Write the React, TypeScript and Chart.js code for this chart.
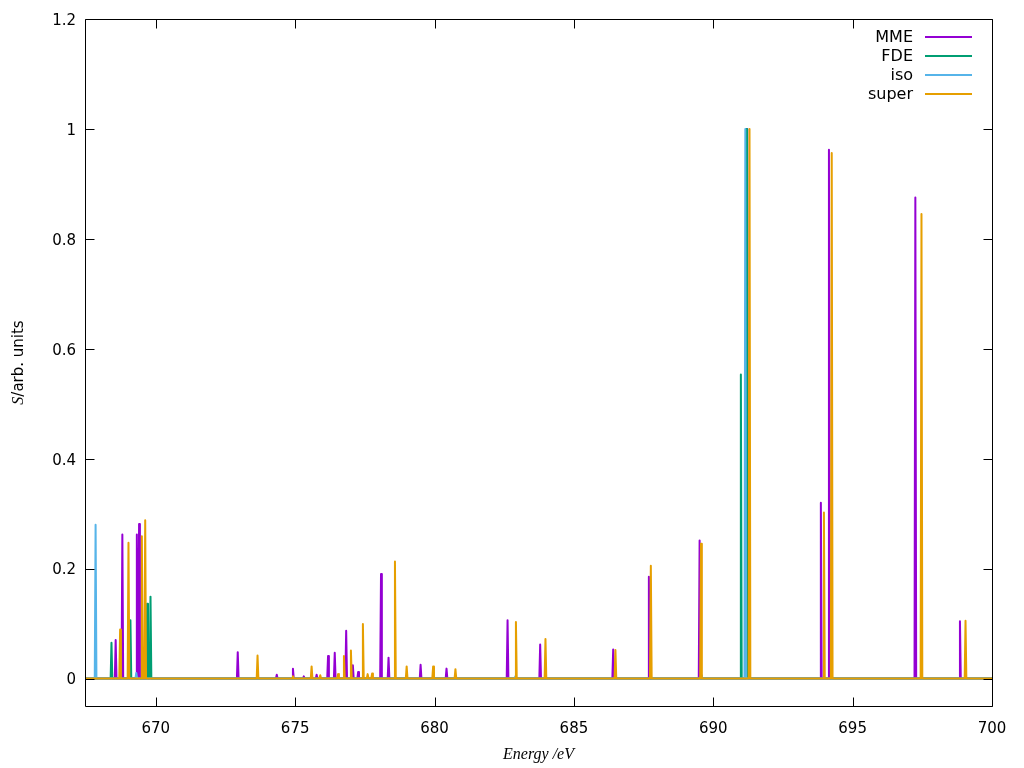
import { useEffect, useRef } from "react";
import { Chart, registerables } from "chart.js";

Chart.register(...registerables);

// ---- axis ranges & ticks ----
const xMin = 667.46;
const xMax = 700;
const yMin = -0.05;
const yMax = 1.2;
const xTickValues = [670, 675, 680, 685, 690, 695, 700];
const xTickLabels = ["670", "675", "680", "685", "690", "695", "700"];
const yTickValues = [0, 0.2, 0.4, 0.6, 0.8, 1, 1.2];
const yTickLabels = ["0", "0.2", "0.4", "0.6", "0.8", "1", "1.2"];

// ---- series ----
const seriesNames = ["MME", "FDE", "iso", "super"];
const seriesColors = ["#9400d3", "#009e73", "#56b4e9", "#e69f00"];

const mmeEnergy = [
  668.56, 668.8, 669.32, 669.4, 672.94, 674.34, 674.92, 675.31, 675.77, 676.18,
  676.42, 676.83, 677.07, 677.26, 678.08, 678.35, 679.5, 680.43, 682.62, 683.79,
  686.41, 687.69, 689.51, 691.22, 693.86, 694.15, 697.25, 698.85,
];
const mmeIntensity = [
  0.07, 0.262, 0.262, 0.281, 0.048, 0.007, 0.018, 0.004, 0.007, 0.041,
  0.047, 0.087, 0.024, 0.012, 0.19, 0.038, 0.025, 0.018, 0.106, 0.062,
  0.053, 0.185, 0.251, 1.0, 0.32, 0.962, 0.875, 0.104,
];

const fdeEnergy = [668.41, 669.09, 669.69, 669.81, 690.99, 691.18];
const fdeIntensity = [0.065, 0.106, 0.136, 0.149, 0.553, 1.0];

const isoEnergy = [667.84, 669.3, 682.9, 683.98, 687.76, 689.56, 691.15];
const isoIntensity = [0.28, 0.01, 0.004, 0.004, 0.005, 0.006, 1.0];

const superEnergy = [
  668.72, 669.02, 669.5, 669.62, 673.65, 674.92, 675.59, 675.9, 676.54, 676.75,
  677.0, 677.43, 677.6, 677.76, 678.58, 679.0, 679.95, 680.75, 682.92, 683.98,
  686.49, 687.76, 689.56, 691.3, 693.97, 694.25, 697.47, 699.05,
];
const superIntensity = [
  0.089, 0.247, 0.259, 0.288, 0.042, 0.004, 0.022, 0.006, 0.008, 0.041,
  0.051, 0.099, 0.008, 0.009, 0.213, 0.022, 0.022, 0.017, 0.103, 0.072,
  0.052, 0.205, 0.245, 1.0, 0.302, 0.956, 0.845, 0.105,
];

const peakHalfWidth = 0.03;

function stickSpectrum(energy: number[], intensity: number[]) {
  const idx = energy.map((_, i) => i).sort((a, b) => energy[a] - energy[b]);
  const pts: { x: number; y: number }[] = [{ x: xMin, y: 0 }];
  for (const i of idx) {
    pts.push({ x: energy[i] - peakHalfWidth, y: 0 });
    pts.push({ x: energy[i], y: intensity[i] });
    pts.push({ x: energy[i] + peakHalfWidth, y: 0 });
  }
  pts.push({ x: xMax, y: 0 });
  return pts;
}

const seriesData = [
  stickSpectrum(mmeEnergy, mmeIntensity),
  stickSpectrum(fdeEnergy, fdeIntensity),
  stickSpectrum(isoEnergy, isoIntensity),
  stickSpectrum(superEnergy, superIntensity),
];

const SANS = "'DejaVu Sans', sans-serif";
const SERIF = "'Liberation Serif', 'DejaVu Serif', serif";

const framePlugin = {
  id: "gnuplotFrame",
  afterDraw(chart: any) {
    const { ctx, chartArea: a, scales } = chart;
    const xs = scales.x;
    const ys = scales.y;
    ctx.save();
    ctx.strokeStyle = "#000";
    ctx.lineWidth = 1;
    const L = Math.round(a.left) + 0.5;
    const R = Math.round(a.right) + 0.5;
    const T = Math.round(a.top) + 0.5;
    const B = Math.round(a.bottom) + 0.5;
    ctx.beginPath();
    ctx.rect(L, T, R - L, B - T);
    const tl = 9;
    for (const v of xTickValues) {
      const px = Math.round(xs.getPixelForValue(v)) + 0.5;
      ctx.moveTo(px, B);
      ctx.lineTo(px, B - tl);
      ctx.moveTo(px, T);
      ctx.lineTo(px, T + tl);
    }
    for (const v of yTickValues) {
      const py = Math.round(ys.getPixelForValue(v)) + 0.5;
      ctx.moveTo(L, py);
      ctx.lineTo(L + tl, py);
      ctx.moveTo(R, py);
      ctx.lineTo(R - tl, py);
    }
    ctx.stroke();

    // y tick labels
    ctx.fillStyle = "#000";
    ctx.font = `15px ${SANS}`;
    ctx.textAlign = "right";
    ctx.textBaseline = "middle";
    yTickValues.forEach((v, i) => {
      ctx.fillText(yTickLabels[i], 76, ys.getPixelForValue(v) + 2);
    });

    // legend (gnuplot style: text right-aligned, then line sample)
    ctx.font = `16px ${SANS}`;
    ctx.textAlign = "right";
    ctx.textBaseline = "middle";
    seriesNames.forEach((name, i) => {
      const yy = 37 + i * 19;
      ctx.fillStyle = "#000";
      ctx.fillText(name, 913, yy + 1);
      ctx.strokeStyle = seriesColors[i];
      ctx.lineWidth = 2;
      ctx.beginPath();
      ctx.moveTo(925, yy);
      ctx.lineTo(972, yy);
      ctx.stroke();
    });

    // x axis title
    ctx.fillStyle = "#000";
    ctx.font = `italic 16px ${SERIF}`;
    ctx.textAlign = "center";
    ctx.textBaseline = "middle";
    ctx.fillText("Energy /eV", (a.left + a.right) / 2, 755);

    // y axis title: italic S + "/arb. units"
    ctx.save();
    ctx.translate(19, (a.top + a.bottom) / 2);
    ctx.rotate(-Math.PI / 2);
    const part1 = "S";
    const part2 = "/arb. units";
    ctx.font = `italic 16px ${SERIF}`;
    const w1 = ctx.measureText(part1).width;
    ctx.font = `15px ${SANS}`;
    const w2 = ctx.measureText(part2).width;
    const start = -(w1 + w2) / 2;
    ctx.textAlign = "left";
    ctx.font = `italic 16px ${SERIF}`;
    ctx.fillText(part1, start, 0);
    ctx.font = `15px ${SANS}`;
    ctx.fillText(part2, start + w1, 0);
    ctx.restore();

    ctx.restore();
  },
};

export default function App() {
  const canvasRef = useRef<HTMLCanvasElement | null>(null);

  useEffect(() => {
    const canvas = canvasRef.current;
    if (!canvas) return;
    const chart = new Chart(canvas, {
      type: "line",
      data: {
        datasets: seriesNames.map((name, i) => ({
          label: name,
          data: seriesData[i],
          borderColor: seriesColors[i],
          backgroundColor: seriesColors[i],
          borderWidth: 2,
          borderJoinStyle: "round" as const,
          borderCapStyle: "round" as const,
          pointRadius: 0,
          tension: 0,
          fill: false,
          order: seriesNames.length - i,
        })),
      },
      options: {
        animation: false,
        responsive: false,
        maintainAspectRatio: false,
        parsing: false as any,
        normalized: true,
        layout: { padding: { top: 19, right: 32, left: 0, bottom: 0 } },
        plugins: {
          legend: { display: false },
          tooltip: { enabled: false },
        },
        scales: {
          x: {
            type: "linear",
            min: xMin,
            max: xMax,
            grid: { display: false },
            border: { display: false },
            afterBuildTicks: (s: any) => {
              s.ticks = xTickValues.map((v) => ({ value: v }));
            },
            afterFit: (s: any) => {
              s.height = 62;
            },
            ticks: {
              color: "#000",
              font: { family: SANS, size: 15 },
              padding: 6,
              maxRotation: 0,
              autoSkip: false,
              callback: (v: any) => {
                const k = xTickValues.findIndex((t) => Math.abs(t - v) < 1e-6);
                return k >= 0 ? xTickLabels[k] : "";
              },
            },
          },
          y: {
            type: "linear",
            min: yMin,
            max: yMax,
            grid: { display: false },
            border: { display: false },
            afterBuildTicks: (s: any) => {
              s.ticks = yTickValues.map((v) => ({ value: v }));
            },
            afterFit: (s: any) => {
              s.width = 85;
            },
            ticks: { display: false },
          },
        },
      },
      plugins: [framePlugin],
    });
    return () => chart.destroy();
  }, []);

  return (
    <div style={{ position: "fixed", left: 0, top: 0, width: 1024, height: 768, background: "#fff" }}>
      <canvas ref={canvasRef} width={1024} height={768} style={{ width: 1024, height: 768, display: "block" }} />
    </div>
  );
}
